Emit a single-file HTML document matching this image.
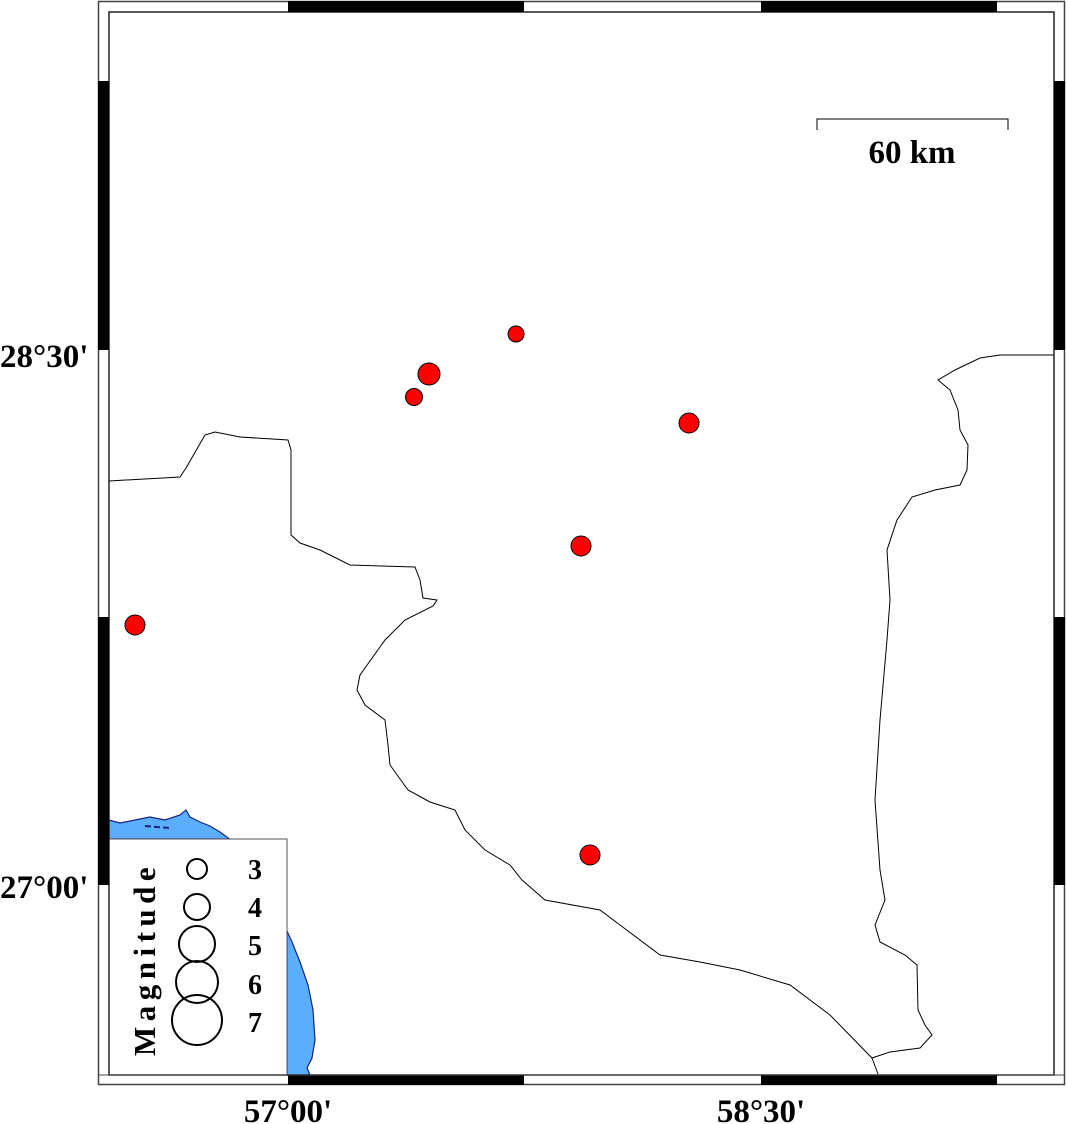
<!DOCTYPE html>
<html><head><meta charset="utf-8"><style>
html,body{margin:0;padding:0;background:#fff;}
svg{display:block;}
text{font-family:"Liberation Serif",serif;font-weight:bold;fill:#000;}
</style></head><body>
<svg width="1066" height="1124" viewBox="0 0 1066 1124" xmlns="http://www.w3.org/2000/svg">
<rect width="1066" height="1124" fill="#fff"/>
<path d="M109,820 L120,823 L135,820 L150,817 L165,820 L180,815 L186,810 L190,817 L200,822 L210,826 L220,832 L228,838 L230,839 L109,839 Z" fill="#5aaefc" stroke="#1a237e" stroke-width="1.2"/>
<path d="M145,826 L170,828" stroke="#1a237e" stroke-width="2" stroke-dasharray="6,3"/>
<path d="M287,931 L292,942 L300,962 L308,985 L313,1010 L315,1040 L312,1058 L307,1068 L310,1075 L287,1075 Z" fill="#5aaefc" stroke="#1a237e" stroke-width="1.2"/>
<polyline fill="none" stroke="#000" stroke-width="1" points="109,481 180,477 186,468 205,435 215,432 240,437 288,440 291,450 291,535 300,543 320,550 350,565 415,567 420,580 423,598 437,600 433,606 405,620 385,640 360,675 357,690 365,705 385,720 388,745 390,765 408,790 430,802 455,810 465,830 485,850 510,865 522,880 545,900 600,910 620,925 660,955 700,962 740,970 790,985 830,1015 872,1058 890,1052 920,1048 932,1035 925,1025 918,1010 917,965 905,955 880,942 875,925 885,900 880,870 875,800 880,720 887,640 890,600 887,550 897,520 912,497 935,490 960,485 967,470 968,445 960,430 958,410 950,390 938,380 955,370 980,358 1000,355 1054,355"/>
<polyline fill="none" stroke="#000" stroke-width="1" points="872,1058 878,1074"/>
<g fill="#f00" stroke="#000" stroke-width="1">
<circle cx="516" cy="334" r="8"/>
<circle cx="429" cy="374" r="11"/>
<circle cx="414" cy="397" r="8.5"/>
<circle cx="689" cy="423" r="10"/>
<circle cx="581" cy="546" r="10"/>
<circle cx="135" cy="625" r="10"/>
<circle cx="590" cy="855" r="10"/>
</g>
<path d="M817,130 V119 H1008 V130" fill="none" stroke="#000" stroke-width="1"/>
<text x="912" y="163" font-size="33" text-anchor="middle">60 km</text>
<rect x="109" y="839" width="178" height="236" fill="#fff" stroke="#555" stroke-width="1"/>
<g fill="none" stroke="#000" stroke-width="2">
<circle cx="197" cy="869" r="10"/>
<circle cx="197" cy="907" r="13"/>
<circle cx="197" cy="944" r="18"/>
<circle cx="197" cy="982" r="21"/>
<circle cx="197" cy="1020" r="25"/>
</g>
<g font-size="28">
<text x="248" y="879">3</text>
<text x="248" y="917">4</text>
<text x="248" y="955">5</text>
<text x="248" y="994">6</text>
<text x="248" y="1032">7</text>
</g>
<text transform="translate(155,1056) rotate(-90)" font-size="31" letter-spacing="5.5">Magnitude</text>
<rect x="98.5" y="1.5" width="966" height="1083" fill="none" stroke="#444" stroke-width="1.5"/>
<rect x="109" y="12" width="945" height="1063" fill="none" stroke="#222" stroke-width="1.5"/>
<g fill="#000">
<rect x="288" y="1" width="236" height="11"/>
<rect x="761" y="1" width="236" height="11"/>
<rect x="288" y="1075" width="236" height="10"/>
<rect x="761" y="1075" width="236" height="10"/>
<rect x="98" y="81" width="11" height="269"/>
<rect x="98" y="617" width="11" height="268"/>
<rect x="1054" y="81" width="11" height="269"/>
<rect x="1054" y="617" width="11" height="268"/>
</g>
<line x1="98" y1="1075" x2="1065" y2="1075" stroke="#444" stroke-width="1"/>
<g font-size="33">
<text x="0" y="367">28°30'</text>
<text x="0" y="898">27°00'</text>
<text x="288" y="1122" text-anchor="middle">57°00'</text>
<text x="761" y="1122" text-anchor="middle">58°30'</text>
</g>
</svg>
</body></html>
